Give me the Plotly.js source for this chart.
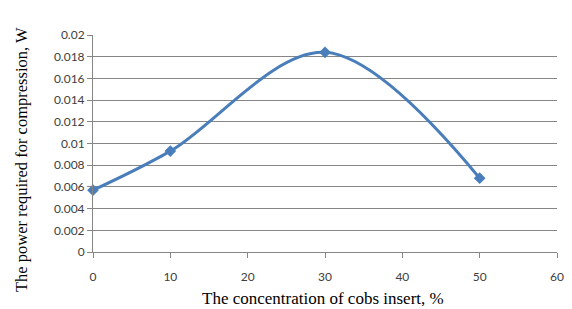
<!DOCTYPE html>
<html><head><meta charset="utf-8">
<script src="https://cdn.plot.ly/plotly-3.0.1.min.js"></script>
<style>html,body{margin:0;padding:0;background:#fff;}#chart{width:572px;height:309px;}</style>
</head><body><div id="chart"></div>
<script>
const concentration = [0, 10, 30, 50];
const power = [0.0057, 0.0093, 0.0184, 0.0068];
const xTitle = "The concentration of cobs insert, %";
const yTitle = "The power required for compression, W";

const trace = {
  x: concentration, y: power, type: 'scatter', mode: 'lines+markers',
  line: {color: '#4a7ebb', width: 3, shape: 'spline', smoothing: 1},
  marker: {symbol: 'diamond', size: 9, color: '#4a7ebb'},
  cliponaxis: false, hoverinfo: 'none'
};
const tickFont = {family: 'Lato, "Liberation Sans", sans-serif', size: 12, color: '#404040'};
const layout = {
  width: 572, height: 309,
  margin: {l: 93, r: 15, t: 35, b: 57},
  paper_bgcolor: '#fff', plot_bgcolor: '#fff',
  showlegend: false,
  xaxis: {range: [0, 60], dtick: 10, tick0: 0, showgrid: false, zeroline: false,
    showline: true, linecolor: '#868686', linewidth: 1,
    ticks: 'outside', ticklen: 5, tickcolor: '#868686', tickfont: tickFont, ticklabelstandoff: 9},
  yaxis: {range: [0, 0.02], dtick: 0.002, tick0: 0, showgrid: true, gridcolor: '#868686', gridwidth: 1,
    zeroline: false, showline: true, linecolor: '#868686', linewidth: 1,
    ticks: 'outside', ticklen: 5, tickcolor: '#868686', tickfont: tickFont},
  annotations: [
    {text: xTitle, xref: 'paper', yref: 'paper', x: 0.495, y: -0.212, xanchor: 'center', yanchor: 'middle',
     showarrow: false, font: {family: '"Liberation Serif", "Times New Roman", serif', size: 17, color: '#000'}},
    {text: yTitle, xref: 'paper', yref: 'paper', x: -0.153, y: 0.424, xanchor: 'center', yanchor: 'middle',
     textangle: -90, showarrow: false, font: {family: '"Liberation Serif", "Times New Roman", serif', size: 16.5, color: '#000'}}
  ]
};
Plotly.newPlot('chart', [trace], layout, {staticPlot: true});
</script></body></html>
